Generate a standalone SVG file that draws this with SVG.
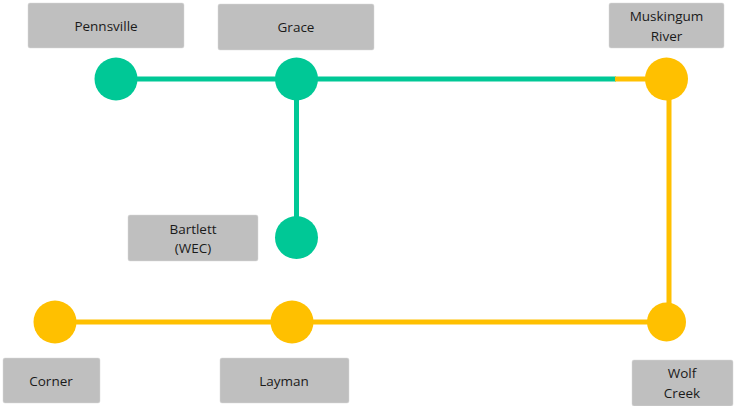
<svg xmlns="http://www.w3.org/2000/svg" width="734" height="406" viewBox="0 0 734 406">
<style>
.box{fill:#BFBFBF;stroke:#d9d9d9;stroke-width:0.5}
.lbl{font-family:"Open Sans","Liberation Sans",sans-serif;font-size:13.5px;fill:#1a1a1a;text-anchor:middle}
.g{fill:#00C896}
.y{fill:#FFC000}
.gl{stroke:#00C896;stroke-width:5;fill:none}
.yl{stroke:#FFC000;stroke-width:5;fill:none}
</style>
<rect width="734" height="406" fill="#fff"/>
<g id="connectors">
<line class="gl" x1="116" y1="79" x2="616" y2="79"/>
<line class="yl" x1="615" y1="79" x2="667" y2="79"/>
<line class="gl" x1="296.5" y1="79" x2="296.5" y2="238"/>
<line class="yl" x1="669" y1="79" x2="669" y2="322"/>
<line class="yl" x1="55" y1="322" x2="667" y2="322"/>
</g>
<g id="pennsville">
<rect class="box" x="28" y="3" width="156" height="45" rx="2"/>
<text class="lbl" x="106" y="31">Pennsville</text>
<circle class="g" cx="116" cy="79" r="21.5"/>
</g>
<g id="grace">
<rect class="box" x="218" y="4" width="156" height="46" rx="2"/>
<text class="lbl" x="296" y="32">Grace</text>
<circle class="g" cx="296.5" cy="79" r="21.5"/>
</g>
<g id="muskingum">
<rect class="box" x="609" y="3" width="115" height="45" rx="2"/>
<text class="lbl" x="666.5" y="21">Muskingum</text>
<text class="lbl" x="666.5" y="41">River</text>
<circle class="y" cx="666.5" cy="79" r="21.5"/>
</g>
<g id="bartlett">
<rect class="box" x="128" y="215" width="130" height="46" rx="2"/>
<text class="lbl" x="193" y="234">Bartlett</text>
<text class="lbl" x="193" y="253">(WEC)</text>
<circle class="g" cx="296.5" cy="237.5" r="21.5"/>
</g>
<g id="corner">
<rect class="box" x="3" y="358" width="97" height="45" rx="2"/>
<text class="lbl" x="51" y="386">Corner</text>
<circle class="y" cx="55" cy="322" r="21.5"/>
</g>
<g id="layman">
<rect class="box" x="220" y="358" width="129" height="45" rx="2"/>
<text class="lbl" x="284" y="386">Layman</text>
<circle class="y" cx="292" cy="322" r="21.5"/>
</g>
<g id="wolfcreek">
<rect class="box" x="632" y="360" width="101" height="46" rx="2"/>
<text class="lbl" x="682" y="378">Wolf</text>
<text class="lbl" x="682" y="398">Creek</text>
<circle class="y" cx="666.5" cy="322" r="19.5"/>
</g>
</svg>
